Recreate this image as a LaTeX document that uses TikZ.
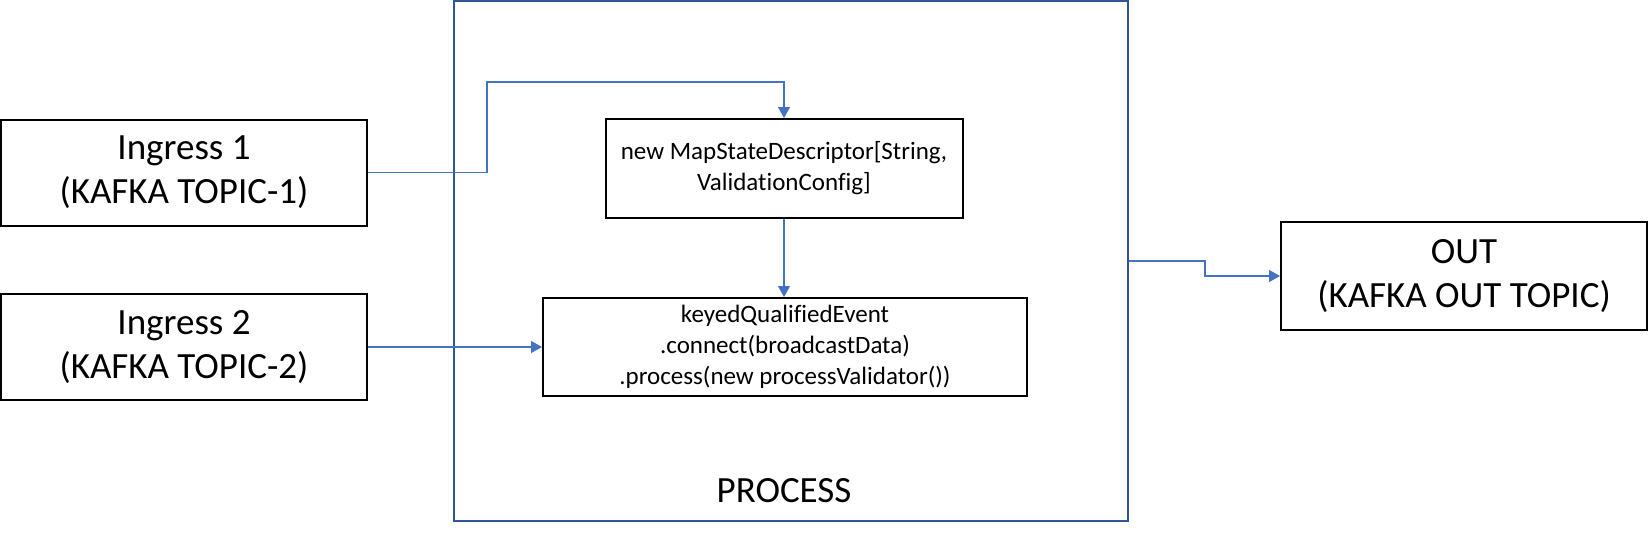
\documentclass[tikz,border=0pt]{standalone}
\usepackage{fontspec}
\setmainfont{Carlito}[Ligatures=NoCommon]
\usetikzlibrary{arrows.meta}
\definecolor{conn}{RGB}{68,114,196}
\definecolor{procblue}{RGB}{47,85,151}
\tikzset{
  bigbox/.style={draw=black, line width=2pt, inner sep=0pt, align=center,
    font=\fontsize{37}{44}\selectfont},
  smallbox/.style={draw=black, line width=2pt, inner sep=0pt, align=center,
    font=\fontsize{25}{31}\selectfont},
  procbox/.style={draw=procblue, line width=2pt, inner sep=0pt},
  conn/.style={draw=conn, line width=1.1pt, -{Triangle[length=11pt,width=12pt]}},
}
\begin{document}
\begin{tikzpicture}[x=1pt,y=-1pt]
\useasboundingbox (0,0) rectangle (1649,535);
\node[procbox, minimum width=674pt, minimum height=519pt] (proc) at (791,261) {};
\node[anchor=base, font=\fontsize{37}{44}\selectfont] (proclabel) at (784,502) {PROCESS};
\node[bigbox, minimum width=366pt, minimum height=106pt] (ing1) at (184,172.5) {Ingress 1\\(KAFKA TOPIC-1)};
\node[bigbox, minimum width=366pt, minimum height=106pt] (ing2) at (184,347) {Ingress 2\\(KAFKA TOPIC-2)};
\node[smallbox, minimum width=357pt, minimum height=99pt] (map) at (784,168.5) {new MapStateDescriptor[String,\\ValidationConfig]};
\node[smallbox, minimum width=484pt, minimum height=98pt] (keyed) at (785,347) {keyedQualifiedEvent\\.connect(broadcastData)\\.process(new processValidator())};
\node[bigbox, minimum width=366pt, minimum height=108pt] (out) at (1464,276) {OUT\\(KAFKA OUT TOPIC)};
\coordinate (b1) at (487,82);
\coordinate (b2) at (1205,261);
\draw[conn] (ing1.east) -| (b1) -| (map.north);
\draw[conn] (map.south) -- (map.south |- keyed.north);
\draw[conn] (ing2.east) -- (keyed.west);
\draw[conn] (proc.east) -- (b2) |- (out.west);
\end{tikzpicture}
\end{document}
